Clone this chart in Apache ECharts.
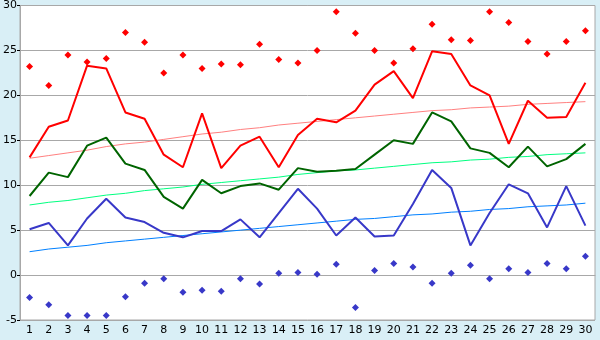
<!DOCTYPE html>
<html lang="en">
<head>
  <meta charset="utf-8">
  <style>
    html, body { margin: 0; padding: 0; background: #d9eff6; }
    #chart { width: 600px; height: 340px; }
  </style>
</head>
<body>
  <div id="chart"></div>
  <script src="https://cdn.jsdelivr.net/npm/echarts@6/dist/echarts.min.js"></script>
  <script>
    // days 1..30
    const days = [];
    for (let i = 1; i <= 30; i++) days.push(String(i));

    const yTicks = [-5, 0, 5, 10, 15, 20, 25, 30];

    // red line
    const redLine = [13.1, 16.5, 17.2, 23.3, 23.0, 18.1, 17.4, 13.4, 12.0, 18.0,
      11.9, 14.4, 15.4, 12.0, 15.6, 17.4, 17.0, 18.3, 21.2, 22.7,
      19.7, 24.9, 24.6, 21.1, 20.0, 14.6, 19.4, 17.5, 17.6, 21.4];
    // red diamonds
    const redDots = [23.2, 21.1, 24.5, 23.7, 24.1, 27.0, 25.9, 22.5, 24.5, 23.0,
      23.5, 23.4, 25.7, 24.0, 23.6, 25.0, 29.3, 26.9, 25.0, 23.6,
      25.2, 27.9, 26.2, 26.1, 29.3, 28.1, 26.0, 24.6, 26.0, 27.2];
    // red trend
    const redTrend = [13.0, 13.3, 13.6, 13.9, 14.3, 14.6, 14.8, 15.1, 15.4, 15.7,
      15.9, 16.2, 16.4, 16.7, 16.9, 17.1, 17.3, 17.5, 17.7, 17.9,
      18.1, 18.3, 18.4, 18.6, 18.7, 18.8, 19.0, 19.1, 19.2, 19.3];

    // green line
    const greenLine = [8.8, 11.4, 10.9, 14.4, 15.3, 12.4, 11.7, 8.7, 7.4, 10.6,
      9.1, 9.9, 10.2, 9.5, 11.9, 11.5, 11.6, 11.8, 13.4, 15.0,
      14.6, 18.1, 17.1, 14.1, 13.6, 12.0, 14.3, 12.1, 12.9, 14.6];
    // green trend
    const greenTrend = [7.8, 8.1, 8.3, 8.6, 8.9, 9.1, 9.4, 9.6, 9.8, 10.1,
      10.3, 10.5, 10.7, 10.9, 11.2, 11.4, 11.6, 11.7, 11.9, 12.1,
      12.3, 12.5, 12.6, 12.8, 12.9, 13.1, 13.2, 13.4, 13.5, 13.6];

    // blue line
    const blueLine = [5.1, 5.8, 3.3, 6.3, 8.5, 6.4, 5.9, 4.7, 4.2, 4.9,
      4.9, 6.2, 4.2, 6.9, 9.6, 7.4, 4.4, 6.4, 4.3, 4.4,
      7.9, 11.7, 9.7, 3.3, 6.9, 10.1, 9.1, 5.3, 9.9, 5.5];
    // blue diamonds
    const blueDots = [-2.5, -3.3, -4.5, -4.5, -4.5, -2.4, -0.9, -0.4, -1.9, -1.7,
      -1.8, -0.4, -1.0, 0.2, 0.3, 0.1, 1.2, -3.6, 0.5, 1.3,
      0.9, -0.9, 0.2, 1.1, -0.4, 0.7, 0.3, 1.3, 0.7, 2.1];
    // blue trend
    const blueTrend = [2.6, 2.9, 3.1, 3.3, 3.6, 3.8, 4.0, 4.2, 4.4, 4.6,
      4.8, 5.0, 5.2, 5.4, 5.6, 5.8, 6.0, 6.2, 6.3, 6.5,
      6.7, 6.8, 7.0, 7.1, 7.3, 7.4, 7.6, 7.7, 7.8, 8.0];

    var chart = echarts.init(document.getElementById('chart'), null, { renderer: 'canvas' });

    function line(data, color, width, z) {
      return {
        type: 'line', data: data, symbol: 'none', z: z,
        lineStyle: { color: color, width: width },
        itemStyle: { color: color }
      };
    }
    function dots(data, color) {
      return {
        type: 'scatter', data: data, symbol: 'diamond', symbolSize: 7, z: 5,
        itemStyle: { color: color, opacity: 1 }
      };
    }

    var option = {
      animation: false,
      backgroundColor: '#d9eff6',
      textStyle: { fontFamily: 'DejaVu Sans' },
      grid: {
        left: 20, right: 5, top: 5, bottom: 20,
        show: true, backgroundColor: '#ffffff', borderColor: '#a8a8a8', borderWidth: 1
      },
      xAxis: {
        type: 'category',
        data: days,
        boundaryGap: true,
        axisLine: { lineStyle: { color: '#a8a8a8' } },
        axisTick: { alignWithLabel: true, length: 5, lineStyle: { color: '#000' } },
        axisLabel: { color: '#000', fontSize: 11, margin: 5, interval: 0 },
        splitLine: { show: false }
      },
      yAxis: {
        type: 'value',
        min: yTicks[0], max: yTicks[yTicks.length - 1], interval: 5,
        axisLine: { show: true, lineStyle: { color: '#a8a8a8' } },
        axisTick: { show: true, length: 3, lineStyle: { color: '#000' } },
        axisLabel: { color: '#000', fontSize: 11, margin: 3 },
        splitLine: { lineStyle: { color: '#a8a8a8' } }
      },
      series: [
        line(redTrend, '#ff8080', 1, 2),
        line(greenTrend, '#00ff80', 1, 2),
        line(blueTrend, '#0080ff', 1, 2),
        line(redLine, '#ff0000', 2, 3),
        line(greenLine, '#006400', 2, 3),
        line(blueLine, '#3838c8', 2, 3),
        dots(redDots, '#ff0000'),
        dots(blueDots, '#3838c8')
      ]
    };
    chart.setOption(option);
  </script>
</body>
</html>
